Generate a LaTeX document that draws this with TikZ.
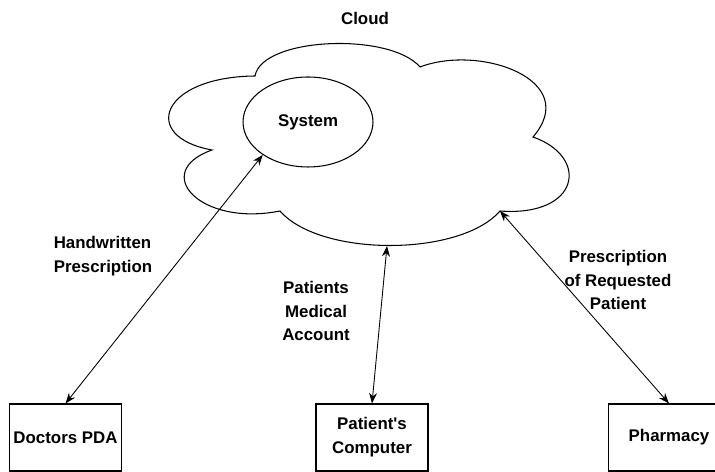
\documentclass[tikz,border=0pt]{standalone}
\usepackage{fontspec}
\setmainfont{Liberation Sans}
\usetikzlibrary{arrows.meta, positioning, shapes.geometric}

\begin{document}
\begin{tikzpicture}[
    x=0.02cm, y=0.02cm,
    every node/.style={font=\fontsize{9.6}{13.6}\selectfont\bfseries},
    box/.style={draw, line width=0.6pt, minimum width=2.24cm, minimum height=1.34cm, align=center, inner sep=2pt},
    a/.style={{Stealth[length=6pt,width=4.5pt]}-{Stealth[length=6pt,width=4.5pt]}, line width=0.5pt},
    lbl/.style={align=center, inner sep=1pt}
]
\useasboundingbox (0,0) rectangle (715,472);
% cloud outline
\draw[line width=0.6pt] (255,396)
    .. controls (262,435) and (390,440) .. (420,405)
    .. controls (480,428) and (582,392) .. (533,335)
    .. controls (590,315) and (580,255) .. (500,261)
    .. controls (460,215) and (320,215) .. (280,261)
    .. controls (200,245) and (150,300) .. (212,322)
    .. controls (140,335) and (160,395) .. (255,396) -- cycle;
\node (cloud) at (365,454) {Cloud};
\node[ellipse, draw, line width=0.6pt, minimum width=2.6cm, minimum height=1.8cm] (sys) at (308,350) {System};
\coordinate (cbot) at (387,226);
\coordinate (cright) at (500,261);
% clients
\node[box] (pda)   at (65.5,34.5)  {Doctors PDA};
\node[box] (pc)    at (372,34.5)   {Patient\textquotesingle s\\Computer};
\node[box, minimum width=2.44cm] (pharm) at (669,34.5) {Pharmacy};
\draw[a] (pda.north) -- (sys.216);
\draw[a] (pc.north) -- (cbot);
\draw[a] (pharm.north) -- (cright);
% flow labels
\node[lbl, align=left] (hw) at (103,216) {Handwritten\\Prescription};
\node[lbl] (acc) at (316,161) {Patients\\Medical\\Account};
\node[lbl] (req) at (618,192) {Prescription\\of Requested\\Patient};
\end{tikzpicture}
\end{document}
